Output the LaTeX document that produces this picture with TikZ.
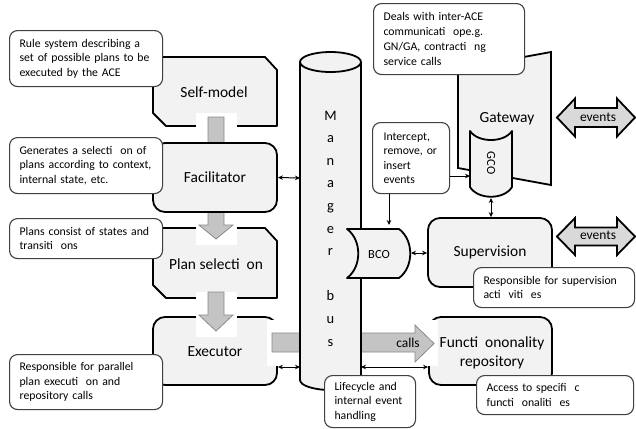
\documentclass[tikz,border=0pt]{standalone}
\usepackage{fontspec}
\setmainfont{Carlito}
\usetikzlibrary{arrows.meta}
\definecolor{boxfill}{HTML}{F2F2F2}
\definecolor{arrfill}{HTML}{C4C4C4}
\definecolor{arrline}{HTML}{8A8A8A}
\definecolor{evfill}{HTML}{D9D9D9}
\definecolor{cline}{HTML}{404040}
\newcommand\lblfnt{\fontsize{15.5}{19}\selectfont}
\newcommand\calfnt{\fontsize{11.8}{14.5}\selectfont}
\newcommand\dealfnt{\fontsize{11.8}{15.2}\selectfont}
\newcommand\evfnt{\fontsize{13.5}{16}\selectfont}
\newcommand\busfnt{\fontsize{14.5}{17}\selectfont}
\newcommand\cofnt{\fontsize{12.5}{15}\selectfont}
\begin{document}
\begin{tikzpicture}[x=1bp,y=-1bp,
  shapeline/.style={draw=black,line width=1.8bp,fill=boxfill,line join=round},
  mainbox/.style={shapeline,rounded corners=12bp,inner sep=0pt,font=\lblfnt,align=center},
  mainlabel/.style={font=\lblfnt,inner sep=0pt,align=center},
  callout/.style={draw=cline,line width=1.1bp,fill=white,rounded corners=8bp,anchor=north west,align=left,inner ysep=0pt,inner xsep=10bp,font=\calfnt},
  blockarrow/.style={fill=arrfill,draw=arrline,line width=0.8bp,line join=miter},
  maskbox/.style={fill=white,draw=none},
  evarrow/.style={fill=evfill,draw=black,line width=1.8bp,line join=miter},
  link/.style={draw=black,line width=1bp,{Stealth[length=5bp,width=4.5bp]}-{Stealth[length=5bp,width=4.5bp]}},
  onelink/.style={draw=black,line width=1bp,-{Stealth[length=5bp,width=4.5bp]}},
]
\useasboundingbox (0,0) rectangle (636,428);

% ---------- left column ----------
\path[shapeline] (153,57) -- (265,57) -- (277,70) -- (277,126) -- (166,126) -- (153,113) -- cycle;
\node[mainlabel] (sm) at (214,92) {Self-model};

\path[shapeline] (153,228) -- (265,228) -- (277,241) -- (277,298) -- (166,298) -- (153,285) -- cycle;
\node[mainlabel] (ps) at (216,264) {Plan selecti\ \ on};

\node[mainbox,minimum width=124bp,minimum height=68bp] (exe) at (215,351) {};

% arrow self-model -> plan selection
\path[maskbox] (196,113) rectangle (237,143);
\path[maskbox] (196,212) rectangle (237,245);
\path[blockarrow] (208,117) -- (224,117) -- (224,225) -- (233,225) -- (216,239) -- (199,225) -- (208,225) -- cycle;

\node[mainbox,minimum width=124bp,minimum height=69bp] (fac) at (215,177.5) {Facilitator};

% arrow plan selection -> executor
\path[maskbox] (196,292) rectangle (237,337);
\path[blockarrow] (208,292) -- (224,292) -- (224,315) -- (233,315) -- (216,331) -- (199,315) -- (208,315) -- cycle;

% ---------- right boxes ----------
\node[mainbox,minimum width=124bp,minimum height=69bp] (sup) at (490,252.5) {Supervision};
\node[mainbox,minimum width=123bp,minimum height=68bp] (fun) at (490.5,351) {};

% calls arrow (behind bus)
\path[maskbox] (267,320) rectangle (438,366);
\path[blockarrow] (272,333) -- (415,333) -- (415,325) -- (434,343.5) -- (415,362) -- (415,352) -- (272,352) -- cycle;
\node[font=\evfnt,inner sep=0pt] (callslbl) at (408,343) {calls};
\node[mainlabel] (exelbl) at (215,352) {Executor};
\node[mainlabel] (funlbl) at (492,352.5) {Functi\ \ ononality\\repository};

% ---------- manager bus ----------
\path[fill=boxfill] (300,62) -- (300,380) .. controls (300,385.52) and (313.7,390) .. (330.5,390)
   .. controls (347.3,390) and (361,385.52) .. (361,380) -- (361,62) -- cycle;
\draw[line width=1.8bp] (300,62) -- (300,380) .. controls (300,385.52) and (313.7,390) .. (330.5,390)
   .. controls (347.3,390) and (361,385.52) .. (361,380) -- (361,62);
\draw[line width=1.8bp,fill=boxfill] (330.5,62) ellipse [x radius=30.5bp,y radius=10bp];
\foreach \ch/\yy [count=\i] in {M/120,a/142.6,n/165.2,a/187.8,g/210.4,e/233,r/255.6,b/300.8,u/323.4,s/346}
  \node[font=\busfnt,anchor=base,inner sep=0pt] (bus\i) at (330.5,\yy) {\ch};
\coordinate (busfac) at (300,178);
\coordinate (busexe) at (300,367);
\coordinate (busfun) at (361,367);

% ---------- gateway ----------
\path[shapeline,line join=miter] (458,69) -- (551,52) -- (551,185) -- (458,168) -- cycle;
\node[mainlabel] (gw) at (507,119) {Gateway};

% ---------- callouts ----------
\node[callout,text width=133bp,minimum height=56bp] (rule) at (9,30) {Rule system describing a\\set of possible plans to be\\executed by the ACE};
\node[callout,text width=133bp,minimum height=56bp] (gen) at (9,137) {Generates a selecti\ \ on of\\plans according to context,\\internal state, etc.};
\node[callout,text width=133bp,minimum height=40bp] (plans) at (9,218) {Plans consist of states and\\transiti\ \ ons};
\node[callout,text width=133bp,minimum height=55bp] (resp) at (9,354) {Responsible for parallel\\plan executi\ \ on and\\repository calls};
\node[callout,font=\dealfnt,text width=131bp,minimum height=71bp] (deals) at (373,3) {Deals with inter-ACE\\communicati\ \ ope.g.\\GN/GA, contracti\ \ ng\\service calls};
\node[callout,inner xsep=11bp,text width=55bp,minimum height=71bp] (icp) at (372,122) {Intercept,\\remove, or\\insert\\events};
\node[callout,text width=141bp,minimum height=40bp] (suprsp) at (473,267) {Responsible for supervision\\acti\ \ viti\ \ es};
\node[callout,text width=137bp,minimum height=39bp] (access) at (476,375) {Access to specifi\ \ c\\functi\ \ onaliti\ \ es};
\node[callout,text width=71bp,minimum height=52bp] (life) at (324,375) {Lifecycle and\\internal event\\handling};

% ---------- GCO ----------
\path[shapeline] (470,131) .. controls (478,143) and (504,143) .. (512,131) -- (512,187)
   .. controls (504,200) and (478,200) .. (470,187) -- cycle;
\node[font=\cofnt,rotate=-90,inner sep=0pt] (gco) at (491,163) {GCO};
\coordinate (gcol) at (470,176);
\coordinate (gcob) at (491,198);

% ---------- BCO ----------
\path[shapeline] (347,229) .. controls (362,240) and (362,267) .. (347,278) -- (399,278)
   .. controls (414,267) and (414,240) .. (399,229) -- cycle;
\node[font=\cofnt,inner sep=0pt] (bco) at (379,254) {BCO};
\coordinate (bcor) at (411,253);
\coordinate (bcot) at (389,225);

% ---------- events arrows ----------
\path[evarrow] (557,117.5) -- (575,98.5) -- (575,108) -- (617,108) -- (617,98.5) -- (635,117.5)
   -- (617,136.5) -- (617,127) -- (575,127) -- (575,136.5) -- cycle;
\node[font=\evfnt,inner sep=0pt] (ev1) at (598,117) {events};
\path[evarrow] (557,236.5) -- (575,218) -- (575,227.5) -- (617,227.5) -- (617,218) -- (635,236.5)
   -- (617,255) -- (617,245.5) -- (575,245.5) -- (575,255) -- cycle;
\node[font=\evfnt,inner sep=0pt] (ev2) at (598,235) {events};

% ---------- connectors ----------
\draw[link] (fac.east) -- (busfac);
\draw[link] (exe.east |- busexe) -- (busexe);
\draw[link] (busfun) -- (fun.west |- busfun);
\draw[link] (bcor) -- (sup.west |- bcor);
\draw[link] (gcob) -- (gcob |- sup.north);
\draw[onelink] (icp.east |- gcol) -- (gcol);
\draw[onelink] (icp.south -| bcot) -- (bcot);
\end{tikzpicture}
\end{document}
